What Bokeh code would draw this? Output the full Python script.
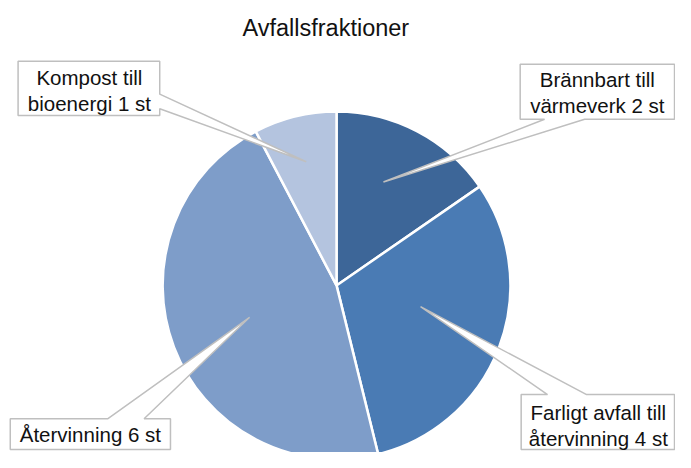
import numpy as np
from bokeh.plotting import figure
from bokeh.models import Range1d, ColumnDataSource
from bokeh.core.properties import value
from bokeh.embed import file_html
from bokeh.resources import INLINE

# ---- data ----
categories = ["Brännbart till värmeverk", "Farligt avfall till återvinning", "Återvinning", "Kompost till bioenergi"]
counts = [2, 4, 6, 1]
labels = ["Brännbart till\nvärmeverk 2 st", "Farligt avfall till\nåtervinning 4 st",
          "Återvinning 6 st", "Kompost till\nbioenergi 1 st"]
colors = ["#3D6698", "#4A7BB4", "#7E9DC9", "#B4C4DF"]
title_text = "Avfallsfraktioner"

W, H = 691, 468
FONT = "Liberation Sans"

p = figure(width=675, height=452, output_backend="svg", toolbar_location=None,
           x_range=Range1d(0, W), y_range=Range1d(0, H), min_border=0)
p.axis.visible = False
p.grid.visible = False
p.outline_line_color = None
p.background_fill_color = "white"
p.border_fill_color = "white"

def Y(y):
    return H - y

# ---- pie ----
total = float(sum(counts))
cum = np.cumsum([0] + counts[:-1])
start = np.pi / 2 - np.array(cum) / total * 2 * np.pi
end = start - np.array(counts) / total * 2 * np.pi
src = ColumnDataSource(dict(start=end, end=start, color=colors, cat=categories, n=counts))
cx, cy, r = 344, 295, 178
p.wedge(x=cx, y=Y(cy), radius=r, start_angle="start", end_angle="end",
        fill_color="color", line_color="white", line_width=2.5, source=src)

# ---- callouts ----
callouts = [
    # Brännbart
    ([(532, 66), (690, 66), (690, 123), (598, 123), (392, 188), (557, 123), (532, 123)], (611, 82)),
    # Farligt
    ([(533, 408), (560, 408), (430, 317), (600, 408), (690, 408), (690, 465), (533, 465)], (612, 427)),
    # Återvinning
    ([(10, 433), (110, 433), (255, 328), (147, 433), (174, 433), (174, 465), (10, 465)], (92, 449)),
    # Kompost
    ([(18, 63), (163, 63), (163, 97), (313, 167), (163, 112), (163, 119), (18, 119)], (91, 80)),
]
for (poly, (tx, ty)), lab in zip(callouts, labels):
    xs = [pt[0] for pt in poly]
    ys = [Y(pt[1]) for pt in poly]
    p.patch(xs, ys, fill_color="white", line_color="#BFBFBF", line_width=1.5)
    p.text(x=[tx], y=[Y(ty)], text=[lab], text_font=value(FONT), text_font_size="20.5px",
           text_align="center", text_baseline="middle" if "\n" not in lab else "top",
           text_line_height=1.15, text_color="#111111",
           y_offset=0 if "\n" not in lab else -12)

# ---- title ----
p.text(x=[333], y=[Y(28)], text=[title_text], text_font=value(FONT), text_font_size="23.5px",
       text_align="center", text_baseline="middle", text_color="#111111")

open("out.html", "w").write(file_html(p, INLINE))
